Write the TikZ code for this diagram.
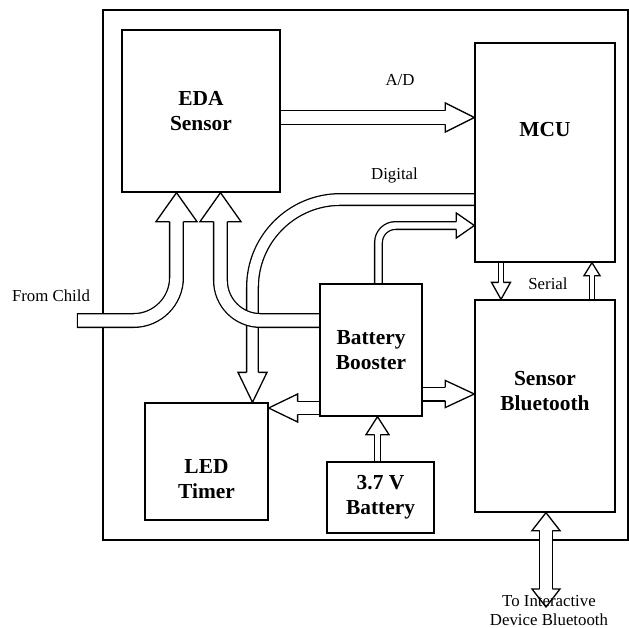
\documentclass[tikz,border=0pt]{standalone}
\usepackage{fontspec}
\setmainfont{Liberation Serif}
\usetikzlibrary{decorations.markings,backgrounds}

\newcommand\pipestroke{0.65pt}
% hollow head at the end of a pipe: #1 shaft width, #2 head length, #3 head width
\newcommand\pipehead[3]{%
  \fill[white, headline] (0pt,0pt) -- (-#2,#3/2) -- (-#2,-#3/2) -- cycle;
  \draw[black, headline] (-#2,#1/2-\pipestroke/2) -- (-#2,#3/2) -- (0pt,0pt)
    -- (-#2,-#3/2) -- (-#2,-#1/2+\pipestroke/2);}

\tikzset{
  block/.style={draw, line width=\pipestroke, inner sep=0pt},
  bname/.style={font=\fontsize{10.7pt}{12.5pt}\selectfont\bfseries, align=center},
  note/.style={font=\fontsize{8.4pt}{9.5pt}\selectfont, align=center, inner sep=0pt},
  headline/.style={sharp corners, shorten >=0pt, shorten <=0pt,
    line width=\pipestroke, line join=miter},
  pipe/.style args={#1/#2/#3}{draw=white, line width=#1-2*\pipestroke, shorten >=#2-0.5pt,
    preaction={draw=black, line width=#1},
    postaction={decorate, decoration={markings,
      mark=at position 1 with {\pipehead{#1}{#2}{#3}}}}},
  pipe both/.style args={#1/#2/#3}{pipe=#1/#2/#3, shorten <=#2-0.5pt,
    postaction={decorate, decoration={markings,
      mark=at position 0 with {\begin{scope}[rotate=180]\pipehead{#1}{#2}{#3}\end{scope}}}}},
  capped/.style={postaction={decorate, decoration={markings,
    mark=at position 0 with {\draw[black, headline] (\pipestroke/2,#1/2-\pipestroke/2)
      -- (\pipestroke/2,-#1/2+\pipestroke/2);}}}}
}

\begin{document}
\begin{tikzpicture}[x=0.5pt, y=-0.5pt]
\useasboundingbox (0,0) rectangle (629,628);

% blocks
\node[block, bname, minimum width=79pt, minimum height=81pt] (eda) at (201,111) {EDA\\Sensor};
\node[block, minimum width=70pt, minimum height=109.5pt,
  label={[bname, yshift=11.25pt]center:MCU}] (mcu) at (545,152.5) {};
\node[block, bname, minimum width=51pt, minimum height=66pt] (boost) at (371,350) {Battery\\Booster};
\node[block, minimum width=70pt, minimum height=106pt,
  label={[bname, yshift=7.5pt]center:Sensor\\Bluetooth}] (bt) at (545,406) {};
\node[block, minimum width=61.5pt, minimum height=58.5pt,
  label={[bname, yshift=-8.75pt]center:LED\\Timer}] (led) at (206.5,461.5) {};
\node[block, bname, minimum width=53.5pt, minimum height=35.5pt] (batt) at (380.5,497.5) {3.7 V\\Battery};

% texts
\node[note] (child) at (51,296) {From Child};
\node[note] (ad) at (400,80) {A/D};
\node[note] (dig) at (394.5,175) {Digital};
\node[note] (ser) at (548,284) {Serial};
\node[note] (dev) at (549,611) {To Interactive\\Device Bluetooth};

\coordinate (src) at (77,320.5);
\coordinate (dst) at (546,607);

\begin{scope}[on background layer]
\draw[line width=\pipestroke] (103,10) rectangle (628,540);

\draw[pipe=6.5pt/15pt/14.5pt, rounded corners=44pt] (mcu.west |- 0,199.5) -- (252.5,199.5) -- (led.north -| 252.5,0);
\draw[pipe=7.5pt/14.5pt/20.5pt, capped=7.5pt, rounded corners=21.5pt] (src) -- (176.5,320.5) -- (eda.south -| 176.5,0);
\draw[pipe=7.5pt/14.5pt/20.5pt, rounded corners=20pt] (boost.west |- 0,320.5) -- (220.5,320.5) -- (eda.south -| 220.5,0);
\draw[pipe=7.5pt/14.5pt/14.5pt] (eda.east |- 0,117.5) -- (mcu.west |- 0,117.5);
\draw[pipe=4.5pt/9pt/12.5pt, rounded corners=8.5pt] (boost.north -| 378.5,0) -- (378.5,225.5) -- (mcu.west |- 0,225.5);
\draw[pipe=3pt/8.5pt/9.5pt] (mcu.south -| 501,0) -- (bt.north -| 501,0);
\draw[pipe=3pt/6.5pt/8pt] (bt.north -| 592,0) -- (mcu.south -| 592,0);
\draw[pipe=7.5pt/14.5pt/13.5pt] (boost.east |- 0,394) -- (bt.west |- 0,394);
\draw[pipe=7pt/14.5pt/14pt] (boost.west |- 0,408) -- (led.east |- 0,408);
\draw[pipe=3.5pt/9pt/11.5pt] (batt.north -| 377.5,0) -- (boost.south -| 377.5,0);
\draw[pipe both=7pt/9pt/14pt] (bt.south -| 546,0) -- (dst);
\end{scope}
\end{tikzpicture}
\end{document}
